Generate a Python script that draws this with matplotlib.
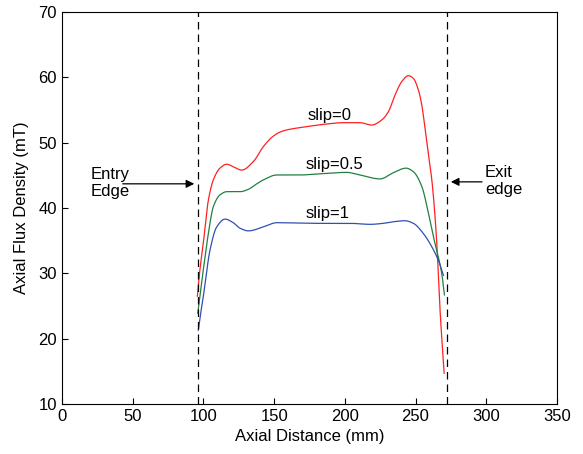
import numpy as np
import matplotlib.pyplot as plt

plt.rcParams['font.family'] = ['Liberation Sans', 'DejaVu Sans']

# slip = 0 (red)
x_s0 = [95.7, 97.5, 99.9, 103.5, 107, 111.7, 116.5, 121.1, 127.1, 135.3, 142.4,
        149.4, 154.0, 158.9, 173, 187.2, 199, 210.7, 219, 226.1, 230.8, 235.5, 240.2,
        244.9, 248.4, 252, 254.4, 256.7, 259.1, 261.5, 264.9, 267.3, 270.2]
y_s0 = [26.5, 30.5, 34.6, 41.2, 44.3, 46.1, 46.7, 46.3, 45.8, 47.1, 49.4,
        51.0, 51.6, 51.95, 52.45, 52.86, 53.06, 53.06, 52.7, 53.47, 54.74, 57.3, 59.33,
        60.25, 59.85, 58.06, 55.76, 52.2, 48.1, 44.3, 35.0, 24.4, 14.7]

# slip = 0.5 (green)
x_s05 = [96.0, 97.8, 99.9, 103.5, 107, 111.7, 116.5, 125.9, 131.8, 137, 142.4,
         151.8, 168.3, 180, 201.3, 210.7, 224.9, 234.3, 243.3, 248.5, 254.4,
         259.1, 262.6, 266.1, 268.5, 270.4]
y_s05 = [23.9, 27.0, 30.5, 36.1, 40.2, 42.0, 42.5, 42.5, 42.86, 43.6, 44.3,
         45.05, 45.05, 45.2, 45.45, 45.05, 44.45, 45.4, 46.1, 45.55, 43.3,
         39.2, 35.6, 32.5, 30.0, 26.7]

# slip = 1 (blue)
x_s1 = [96.4, 98.0, 99.9, 104.7, 109.4, 115.3, 121.1, 125.9, 131.8, 142.4, 151.8,
        180, 203.7, 217.8, 227.2, 234.3, 242.6, 248.5, 255.5, 261.4, 266.1, 269.7]
y_s1 = [21.3, 23.8, 26.4, 33.6, 37.1, 38.3, 37.75, 36.9, 36.5, 37.1, 37.75,
        37.65, 37.65, 37.5, 37.65, 37.9, 38.05, 37.65, 36.1, 34.1, 32.0, 29.7]

edges = [96, 272.5]
labels = ['slip=0', 'slip=0.5', 'slip=1']


def smooth(x, y):
    # piecewise cubic hermite through the read points
    x = np.asarray(x, float)
    y = np.asarray(y, float)
    xs = np.linspace(x[0], x[-1], 500)
    n = len(x)
    h = np.diff(x)
    d = np.diff(y) / h
    m = np.zeros(n)
    m[0], m[-1] = d[0], d[-1]
    for i in range(1, n - 1):
        if d[i - 1] * d[i] <= 0:
            m[i] = 0
        else:
            w1 = 2 * h[i] + h[i - 1]
            w2 = h[i] + 2 * h[i - 1]
            m[i] = (w1 + w2) / (w1 / d[i - 1] + w2 / d[i])
    idx = np.clip(np.searchsorted(x, xs) - 1, 0, n - 2)
    t = (xs - x[idx]) / h[idx]
    h00 = 2 * t**3 - 3 * t**2 + 1
    h10 = t**3 - 2 * t**2 + t
    h01 = -2 * t**3 + 3 * t**2
    h11 = t**3 - t**2
    ys = h00 * y[idx] + h10 * h[idx] * m[idx] + h01 * y[idx + 1] + h11 * h[idx] * m[idx + 1]
    return xs, ys


fig = plt.figure(figsize=(5.83, 4.54), dpi=100)
ax = fig.add_axes([0.1063, 0.1101, 0.8491, 0.8635])

ax.plot(*smooth(x_s0, y_s0), color='#ff2020', lw=0.9)
ax.plot(*smooth(x_s05, y_s05), color='#208040', lw=0.9)
ax.plot(*smooth(x_s1, y_s1), color='#3050b0', lw=0.9)

for e in edges:
    ax.axvline(e, color='black', lw=0.9, ls=(0, (6, 4)))

fs = 12
ax.text(189, 54.2, labels[0], ha='center', va='center', fontsize=fs)
ax.text(193, 46.6, labels[1], ha='center', va='center', fontsize=fs)
ax.text(188, 39.2, labels[2], ha='center', va='center', fontsize=fs)

ax.text(20, 43.8, 'Entry\nEdge', ha='left', va='center', fontsize=fs, linespacing=1.2)
ax.annotate('', xy=(95.5, 43.7), xytext=(41, 43.7),
            arrowprops=dict(arrowstyle='-|>', color='black', lw=0.9, mutation_scale=12))
ax.text(299, 44.1, 'Exit\nedge', ha='left', va='center', fontsize=fs, linespacing=1.2)
ax.annotate('', xy=(273, 44.0), xytext=(299, 44.0),
            arrowprops=dict(arrowstyle='-|>', color='black', lw=0.9, mutation_scale=12))

ax.set_xlim(0, 350)
ax.set_ylim(10, 70)
ax.set_xticks(np.arange(0, 351, 50))
ax.set_yticks(np.arange(10, 71, 10))
ax.tick_params(direction='in', labelsize=fs, length=4)
ax.tick_params(top=False, right=False)
ax.set_xlabel('Axial Distance (mm)', fontsize=fs, labelpad=4)
ax.set_ylabel('Axial Flux Density (mT)', fontsize=fs, labelpad=7)

fig.savefig('out.png', dpi=100)
